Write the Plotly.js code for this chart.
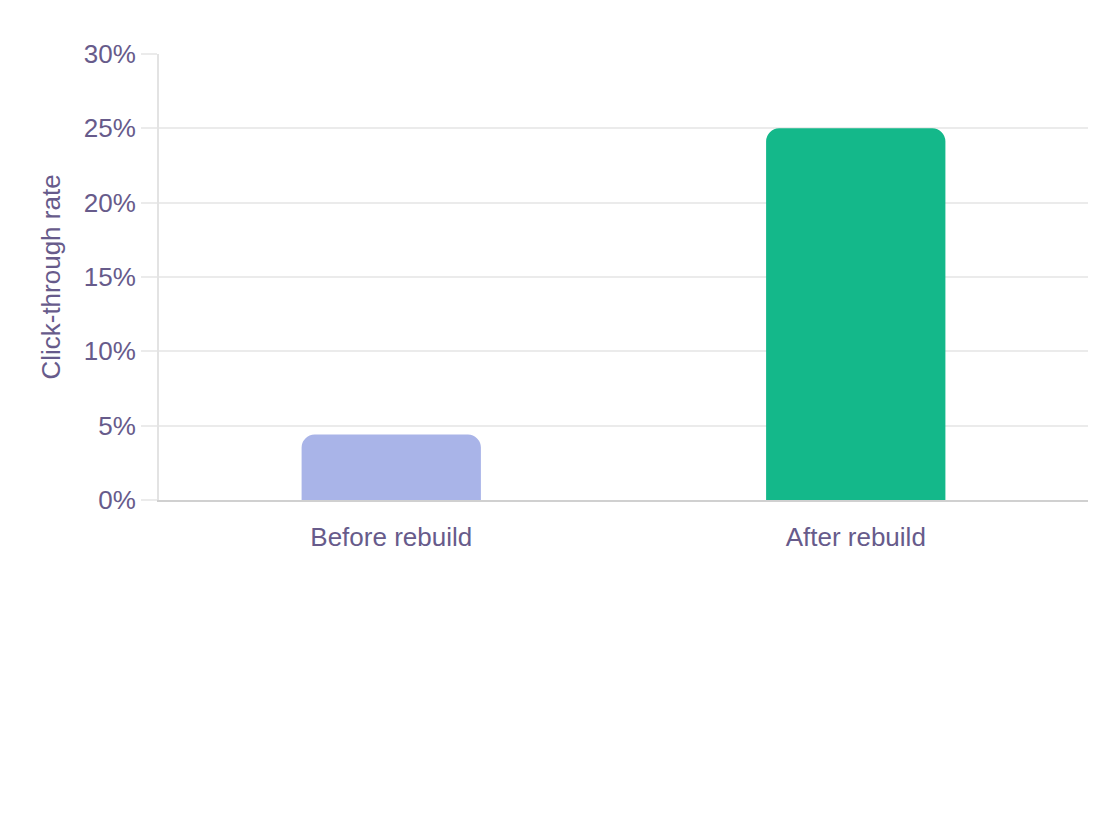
<!DOCTYPE html>
<html>
<head>
<meta charset="utf-8">
<script src="https://cdn.plot.ly/plotly-3.0.1.min.js"></script>
<style>
  html, body { margin: 0; padding: 0; background: #fff; }
  #chart { width: 1120px; height: 840px; }
</style>
</head>
<body>
<div id="chart"></div>
<script>
// values
const stages = ["Before rebuild", "After rebuild"];
const ctr = [0.044, 0.25];
const barColors = ["#a9b4e8", "#14b88a"];
const yTicks = [0, 0.05, 0.10, 0.15, 0.20, 0.25, 0.30];

const textColor = "#675b8b";

const data = [{
    type: "bar",
    x: stages,
    y: ctr,
    width: 0.386,
    marker: { color: barColors, cornerradius: 13, line: { width: 0 } },
    hoverinfo: "skip"
}];

const layout = {
    width: 1120,
    height: 840,
    margin: { l: 159, r: 32, t: 54, b: 340 },
    paper_bgcolor: "#fff",
    plot_bgcolor: "#fff",
    showlegend: false,
    font: { family: "Liberation Sans, Arial, sans-serif", size: 26, color: textColor },
    xaxis: {
        showgrid: false,
        showline: true,
        linecolor: "#d0d0d0",
        linewidth: 2,
        ticks: "outside",
        ticklen: 13,
        tickcolor: "rgba(0,0,0,0)",
        tickfont: { size: 26, color: textColor },
        zeroline: false
    },
    yaxis: {
        title: { text: "Click-through rate", font: { size: 26, color: textColor }, standoff: 16 },
        range: [0, 0.30],
        tickvals: yTicks,
        tickformat: ".0%",
        showgrid: true,
        gridcolor: "#ebebeb",
        gridwidth: 2,
        showline: true,
        linecolor: "#e3e3e3",
        linewidth: 2,
        ticks: "outside",
        ticklen: 16,
        tickcolor: "#ebebeb",
        tickwidth: 2,
        zeroline: false,
        tickfont: { size: 26, color: textColor }
    }
};

Plotly.newPlot("chart", data, layout, { displayModeBar: false, staticPlot: true });
</script>
</body>
</html>
